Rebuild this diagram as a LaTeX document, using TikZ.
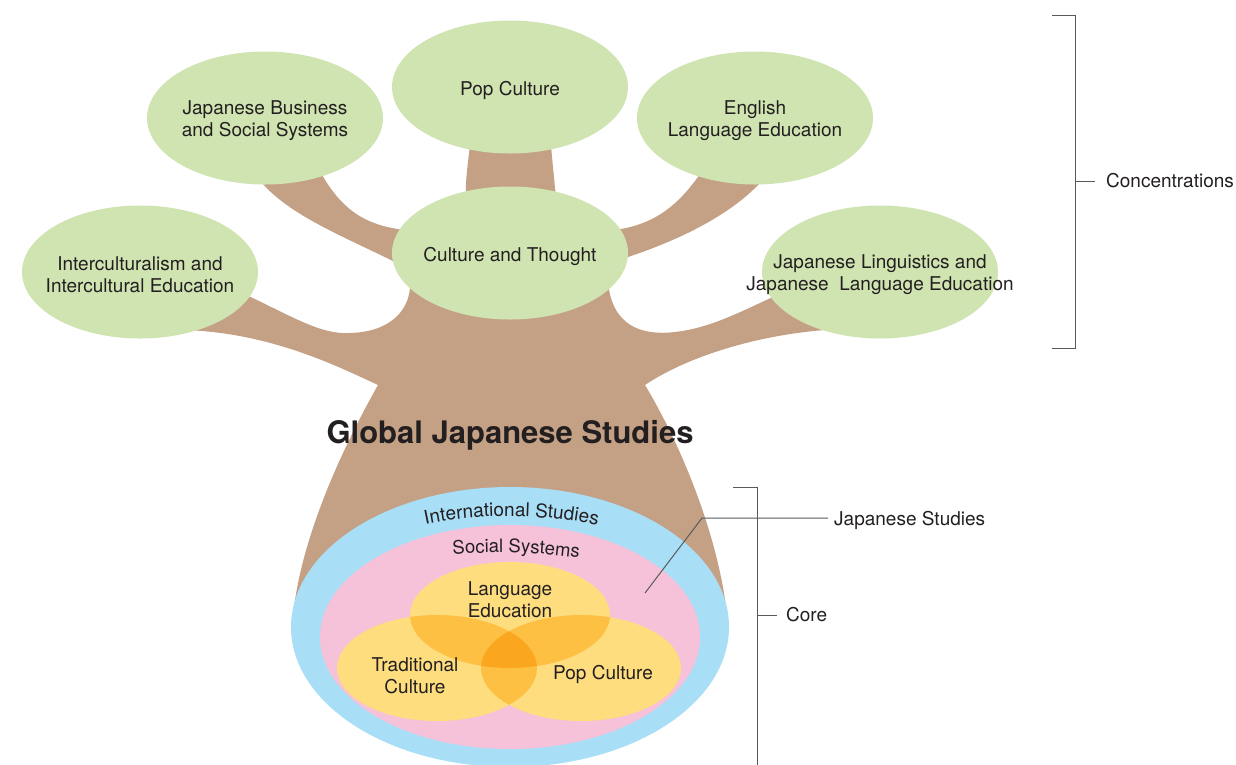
\documentclass[tikz,border=0pt]{standalone}
\usepackage{fontspec}
\setmainfont{TeX Gyre Heros}
\usetikzlibrary{shapes.geometric,decorations.text}

\definecolor{leafgreen}{HTML}{D0E4B2}
\definecolor{bark}{HTML}{C4A185}
\definecolor{skyblue}{HTML}{A9DEF7}
\definecolor{rosepink}{HTML}{F5C2DA}
\definecolor{sunyellow}{HTML}{FEDD7F}
\definecolor{sunorange}{HTML}{FDC042}
\definecolor{deeporange}{HTML}{FBA61F}
\definecolor{ink}{HTML}{231F20}
\definecolor{rule}{HTML}{58595B}

\newcommand{\langE}{(510,615) ellipse [x radius=100, y radius=53]}
\newcommand{\tradE}{(437,668) ellipse [x radius=100, y radius=53]}
\newcommand{\popE}{(581,668) ellipse [x radius=100, y radius=53]}

\begin{document}
\begin{tikzpicture}[x=1pt, y=-1pt,
	leaf/.style={ellipse, fill=leafgreen, minimum width=236pt, minimum height=133pt, inner sep=0pt},
	lbl/.style={align=center, yshift=-3pt, text=ink, font=\fontsize{19}{22}\selectfont},
	note/.style={anchor=west, inner ysep=0pt, text=ink, font=\fontsize{19}{22}\selectfont},
	bracket/.style={draw=rule, line width=1pt}]
	\useasboundingbox (0,0) rectangle (1236,764);

	% tree
	\fill[bark] (292,630) .. controls (295,560) and (330,470) .. (378,385)
		.. controls (335,365) and (270,333) .. (185,330) -- (240,292)
		.. controls (290,315) and (320,335) .. (350,333)
		.. controls (390,332) and (412,310) .. (410,280) -- (395,262)
		.. controls (340,235) and (290,215) .. (262,183) -- (322,175)
		.. controls (340,205) and (360,225) .. (405,230) -- (466,200)
		.. controls (465,185) and (467,170) .. (470,145) -- (551,145)
		.. controls (553,170) and (555,185) .. (556,200) -- (615,230)
		.. controls (650,225) and (675,210) .. (700,174) -- (760,183)
		.. controls (730,215) and (680,240) .. (625,258) -- (608,282)
		.. controls (612,325) and (640,336) .. (675,332)
		.. controls (710,328) and (740,312) .. (775,296) -- (825,330)
		.. controls (760,335) and (690,355) .. (645,385)
		.. controls (690,460) and (725,560) .. (728,630) -- cycle;

	\node[leaf] (ic) at (140,272) {};
	\node[leaf] (biz) at (265,118) {};
	\node[leaf] (pop) at (510,87) {};
	\node[leaf] (eng) at (755,118) {};
	\node[leaf] (ct) at (510,253) {};
	\node[leaf] (jl) at (880,272) {};
	\node[lbl] at (ic) {Interculturalism and\\Intercultural Education};
	\node[lbl] at (biz) {Japanese Business\\and Social Systems};
	\node[lbl] at (pop) {Pop Culture};
	\node[lbl] at (eng) {English\\Language Education};
	\node[lbl] at (ct) {Culture and Thought};
	\node[lbl] at (jl) {Japanese Linguistics and\\Japanese~ Language Education};

	\node[text=ink, font=\fontsize{31}{31}\selectfont\bfseries] (title) at (510,435) {Global Japanese Studies};

	% core
	\fill[skyblue] (510,627) ellipse [x radius=219, y radius=140];
	\fill[rosepink] (510,637) ellipse [x radius=190, y radius=112];
	\fill[sunyellow] \langE;
	\fill[sunyellow] \tradE;
	\fill[sunyellow] \popE;
	\begin{scope}
		\clip \langE;
		\fill[sunorange] \tradE;
		\fill[sunorange] \popE;
	\end{scope}
	\begin{scope}
		\clip \tradE;
		\fill[sunorange] \popE;
	\end{scope}
	\begin{scope}
		\clip \langE;
		\clip \tradE;
		\fill[deeporange] \popE;
	\end{scope}

	\path[decorate, decoration={text along path, text align=center,
		text={|\color{ink}\fontsize{19}{19}\selectfont|International Studies}}]
		(418,526) .. controls (470,513) and (550,513) .. (605,527);
	\path[decorate, decoration={text along path, text align=center,
		text={|\color{ink}\fontsize{18.5}{18.5}\selectfont|Social Systems}}]
		(440,556) .. controls (485,551) and (540,551) .. (592,560);

	\node[lbl] (lang) at (510,597) {Language\\Education};
	\node[lbl] (trad) at (415,673) {Traditional\\Culture};
	\node[lbl] (popc) at (603,671) {Pop Culture};

	% brackets
	\draw[bracket] (1052,15) -| (1075,348) -- (1052,348);
	\coordinate (cmid) at (1075,181);
	\node[note, inner xsep=11pt] (conc) at (1095,181) {Concentrations};
	\draw[bracket] (cmid) -- (conc);

	\draw[bracket] (733,487) -| (757,775);
	\coordinate (kmid) at (757,615);
	\node[note, inner xsep=9pt] (core) at (777,615) {Core};
	\draw[bracket] (kmid) -- (core);

	\coordinate (jspt) at (645,593);
	\coordinate (jsbend) at (702,518);
	\node[note, inner xsep=6pt, yshift=-2pt] (js) at (828,518) {Japanese Studies};
	\draw[bracket] (jspt) -- (jsbend) -- (js.west |- jsbend);
\end{tikzpicture}
\end{document}
